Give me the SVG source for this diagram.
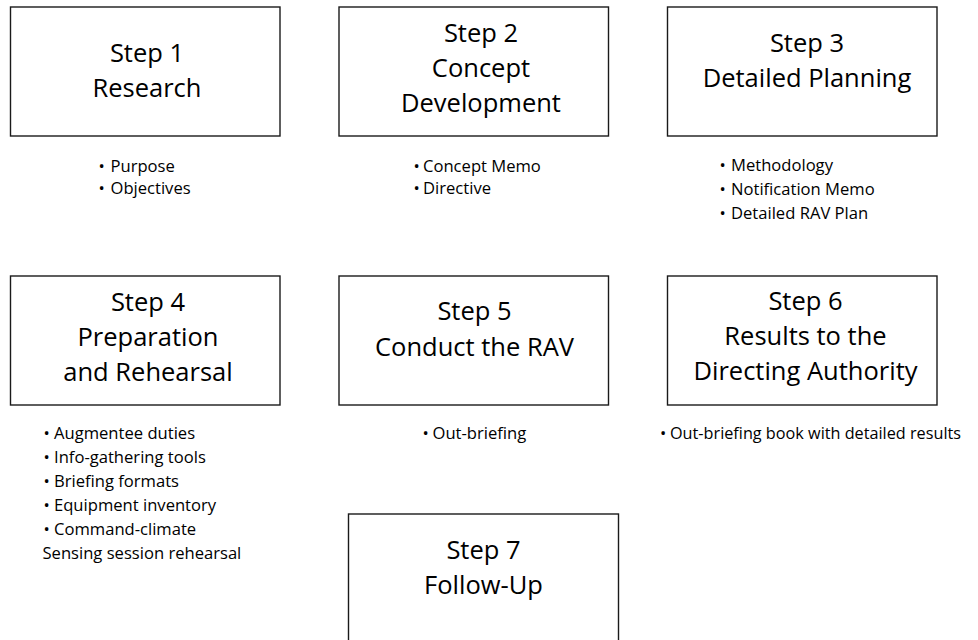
<svg xmlns="http://www.w3.org/2000/svg" width="978" height="640" viewBox="0 0 978 640">
<style>
.box{fill:#fff;stroke:#1a1a1a;stroke-width:1.4}
.t{font-family:"Open Sans","Liberation Sans",sans-serif;font-size:25.5px;fill:#000;text-anchor:middle}
.b{font-family:"Open Sans","Liberation Sans",sans-serif;font-size:16.6px;fill:#000}
</style>
<rect width="978" height="640" fill="#fff"/>
<g id="connectors"/>
<g id="step1">
<rect class="box" x="10.5" y="7" width="269.5" height="129"/>
<text class="t" x="147"><tspan x="147" y="62">Step 1</tspan><tspan x="147" y="97">Research</tspan></text>
<text class="b" y="171.5"><tspan x="98.5">•</tspan><tspan x="110.5">Purpose</tspan></text>
<text class="b" y="194"><tspan x="98.5">•</tspan><tspan x="110.5">Objectives</tspan></text>
</g>
<g id="step2">
<rect class="box" x="339" y="7" width="269.5" height="129"/>
<text class="t"><tspan x="481" y="41.5">Step 2</tspan><tspan x="481" y="76.5">Concept</tspan><tspan x="481" y="111.5">Development</tspan></text>
<text class="b" y="171.5"><tspan x="413.5">•</tspan><tspan x="423">Concept Memo</tspan></text>
<text class="b" y="194"><tspan x="413.5">•</tspan><tspan x="423">Directive</tspan></text>
</g>
<g id="step3">
<rect class="box" x="667.5" y="7" width="269.5" height="129"/>
<text class="t"><tspan x="807" y="51.5">Step 3</tspan><tspan x="807" y="87">Detailed Planning</tspan></text>
<text class="b" y="170.5"><tspan x="719.5">•</tspan><tspan x="731">Methodology</tspan></text>
<text class="b" y="194.5"><tspan x="719.5">•</tspan><tspan x="731">Notification Memo</tspan></text>
<text class="b" y="218.5"><tspan x="719.5">•</tspan><tspan x="731">Detailed RAV Plan</tspan></text>
</g>
<g id="step4">
<rect class="box" x="10.5" y="276" width="269.5" height="129"/>
<text class="t"><tspan x="148" y="310.5">Step 4</tspan><tspan x="148" y="346">Preparation</tspan><tspan x="148" y="381">and Rehearsal</tspan></text>
<text class="b" y="438.5"><tspan x="43.5">•</tspan><tspan x="54">Augmentee duties</tspan></text>
<text class="b" y="462.5"><tspan x="43.5">•</tspan><tspan x="54">Info-gathering tools</tspan></text>
<text class="b" y="486.5"><tspan x="43.5">•</tspan><tspan x="54">Briefing formats</tspan></text>
<text class="b" y="510.7"><tspan x="43.5">•</tspan><tspan x="54">Equipment inventory</tspan></text>
<text class="b" y="535"><tspan x="43.5">•</tspan><tspan x="54">Command-climate</tspan></text>
<text class="b" x="42.5" y="558.5">Sensing session rehearsal</text>
</g>
<g id="step5">
<rect class="box" x="339" y="276" width="269.5" height="129"/>
<text class="t"><tspan x="474.5" y="320">Step 5</tspan><tspan x="474.5" y="355.5">Conduct the RAV</tspan></text>
<text class="b" y="438.5"><tspan x="422.5">•</tspan><tspan x="432.5">Out-briefing</tspan></text>
</g>
<g id="step6">
<rect class="box" x="667.5" y="276" width="269.5" height="129"/>
<text class="t"><tspan x="805.5" y="310">Step 6</tspan><tspan x="805.5" y="345">Results to the</tspan><tspan x="805.5" y="380">Directing Authority</tspan></text>
<text class="b" y="438.5"><tspan x="660">•</tspan></text>
<text class="b" x="670" y="438.5" textLength="291" lengthAdjust="spacingAndGlyphs">Out-briefing book with detailed results</text>
</g>
<g id="step7">
<rect class="box" x="348.5" y="514" width="270" height="140"/>
<text class="t"><tspan x="483.5" y="559.3">Step 7</tspan><tspan x="483.5" y="594">Follow-Up</tspan></text>
</g>
</svg>
